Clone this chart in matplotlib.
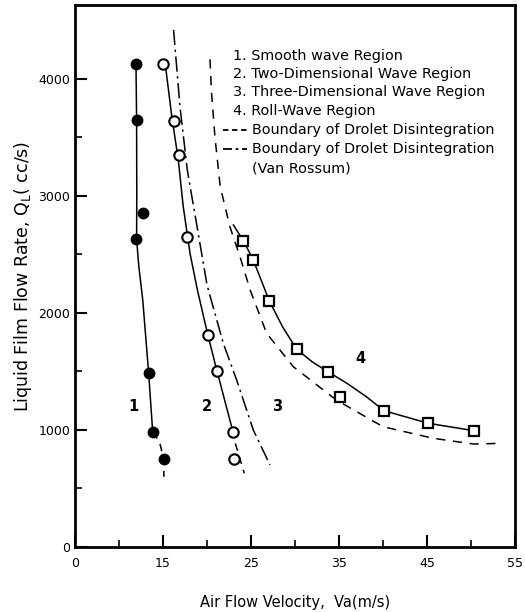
import matplotlib
matplotlib.use("Agg")
import matplotlib.pyplot as plt
from matplotlib.lines import Line2D

# measured points
smooth_va = [11.93, 12.08, 12.76, 11.93, 13.37, 13.83, 15.08]
smooth_ql = [4130, 3650, 2857, 2632, 1487, 980, 750]

twod_va = [15.0, 16.25, 16.85, 17.69, 20.15, 21.14, 22.92, 23.07]
twod_ql = [4128, 3641, 3353, 2647, 1812, 1504, 980, 752]

roll_va = [24.13, 25.26, 27.08, 30.19, 33.78, 35.11, 40.11, 45.15, 50.34]
roll_ql = [2618, 2453, 2103, 1690, 1496, 1285, 1165, 1057, 994]

# region boundaries (hand-drawn curves)
b1_va = [11.93, 12.0, 12.02, 12.0, 12.25, 12.7, 13.37, 13.83]
b1_ql = [4130, 3650, 3000, 2630, 2400, 2110, 1487, 980]
b1_tail_va = [13.83, 14.6, 15.08, 15.1]
b1_tail_ql = [980, 900, 750, 600]

b2_va = [15.3, 16.0, 16.74, 17.3, 18.07, 18.9, 19.96, 20.9, 22.2, 22.9]
b2_ql = [4100, 3678, 3308, 2909, 2510, 2200, 1855, 1573, 1199, 1000]
b2_tail_va = [22.9, 23.2, 24.24]
b2_tail_ql = [1000, 889, 630]

vr_va = [16.2, 16.93, 17.76, 19.0, 20.0, 21.85, 23.37, 25.26, 27.16]
vr_ql = [4420, 3763, 3222, 2681, 2240, 1741, 1427, 1000, 701]

drop_va = [20.34, 20.5, 20.9, 21.5, 22.6, 23.75, 24.9, 26.78, 29.8, 34.7, 40.0, 45.7, 50.3, 53.5]
drop_ql = [4168, 3900, 3507, 3080, 2738, 2481, 2197, 1826, 1541, 1256, 1028, 929, 880, 886]

b3_va = [23.0, 24.13, 25.26, 27.08, 28.6, 30.19, 32.0, 33.78, 35.9, 38.1, 40.11, 45.15, 50.34]
b3_ql = [2752, 2618, 2453, 2103, 1880, 1690, 1580, 1496, 1399, 1285, 1165, 1057, 994]

region_labels = ["1", "2", "3", "4"]
region_va = [11.6, 20.0, 28.0, 37.4]
region_ql = [1199, 1199, 1199, 1612]

x_ticks = [5, 15, 25, 35, 45, 55]
x_tick_labels = ["0", "15", "25", "35", "45", "55"]
y_ticks = [0, 1000, 2000, 3000, 4000]

legend_items = [
    "1. Smooth wave Region",
    "2. Two-Dimensional Wave Region",
    "3. Three-Dimensional Wave Region",
    "4. Roll-Wave Region",
]

fig = plt.figure(figsize=(5.25, 6.12), dpi=100)
ax = fig.add_axes([75 / 525, 1 - 547 / 612, 440 / 525, 542 / 612])

lw = 1.1
ax.plot(b1_va, b1_ql, color="black", lw=lw, zorder=2)
ax.plot(b1_tail_va, b1_tail_ql, color="black", lw=lw, ls=(0, (5, 4)), zorder=2)
ax.plot(b2_va, b2_ql, color="black", lw=lw, zorder=2)
ax.plot(b2_tail_va, b2_tail_ql, color="black", lw=lw, ls=(0, (5, 4)), zorder=2)
ax.plot(vr_va, vr_ql, color="black", lw=lw, ls=(0, (10, 3, 1.5, 3)), zorder=2)
ax.plot(drop_va, drop_ql, color="black", lw=lw, ls=(0, (6, 5)), zorder=2)
ax.plot(b3_va, b3_ql, color="black", lw=lw, zorder=2)

ax.plot(smooth_va, smooth_ql, "o", ms=7.5, color="black", zorder=3)
ax.plot(twod_va, twod_ql, "o", ms=7.5, mfc="white", mec="black", mew=1.5, zorder=3)
ax.plot(roll_va, roll_ql, "s", ms=6.5, mfc="white", mec="black", mew=1.6, zorder=3)

for lab, xv, yv in zip(region_labels, region_va, region_ql):
    ax.text(xv, yv, lab, fontsize=10.5, ha="center", va="center", fontweight="bold")

# legend written as text block
row_y = [(547 - py) / 542 for py in [56, 74, 92, 111, 130, 149, 168]]
for txt, yy in zip(legend_items, row_y[:4]):
    ax.text(0.359, yy, txt, transform=ax.transAxes, fontsize=10.4, ha="left", va="center")
ax.add_line(Line2D([0.336, 0.392], [row_y[4]] * 2, transform=ax.transAxes,
                   color="black", lw=1.3, ls=(0, (3, 2))))
ax.text(0.402, row_y[4], "Boundary of Drolet Disintegration", transform=ax.transAxes,
        fontsize=10.4, ha="left", va="center")
ax.add_line(Line2D([0.336, 0.392], [row_y[5]] * 2, transform=ax.transAxes,
                   color="black", lw=1.3, ls=(0, (5, 2, 1.5, 2))))
ax.text(0.402, row_y[5], "Boundary of Drolet Disintegration", transform=ax.transAxes,
        fontsize=10.4, ha="left", va="center")
ax.text(0.402, row_y[6], "(Van Rossum)", transform=ax.transAxes,
        fontsize=10.4, ha="left", va="center")

ax.set_xlim(5, 55)
ax.set_ylim(0, 4632)
ax.set_xticks(x_ticks)
ax.set_xticklabels(x_tick_labels)
ax.set_xticks([10, 20, 30, 40, 50], minor=True)
ax.set_yticks(y_ticks)
ax.set_yticks([500, 1500, 2500, 3500], minor=True)
ax.tick_params(which="major", direction="in", length=8.5, width=1.5, labelsize=9)
ax.tick_params(which="minor", direction="in", length=5, width=1.2)
ax.tick_params(axis="x", pad=7)
for sp in ax.spines.values():
    sp.set_linewidth(2)

ax.set_xlabel("Air Flow Velocity,  Va(m/s)", fontsize=10.5, labelpad=18)
ax.set_ylabel(r"Liquid Film Flow Rate, $\mathrm{Q_L}$( cc/s)", fontsize=12.5, labelpad=3)

fig.savefig("out.png", dpi=100)
